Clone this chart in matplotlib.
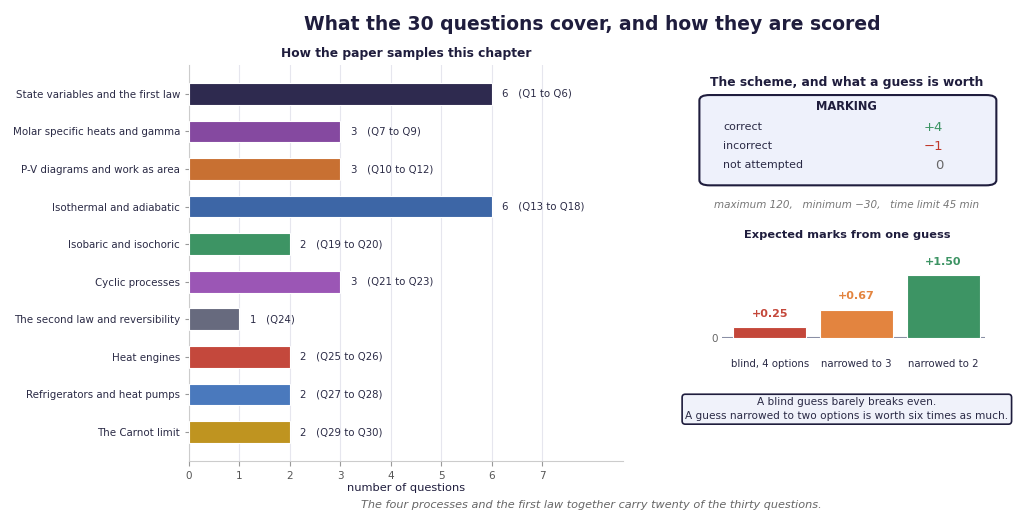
import matplotlib
matplotlib.use("Agg")
import matplotlib.pyplot as plt
from matplotlib.patches import FancyBboxPatch

topics = ["State variables and the first law", "Molar specific heats and gamma",
          "P-V diagrams and work as area", "Isothermal and adiabatic",
          "Isobaric and isochoric", "Cyclic processes",
          "The second law and reversibility", "Heat engines",
          "Refrigerators and heat pumps", "The Carnot limit"]
counts = [6, 3, 3, 6, 2, 3, 1, 2, 2, 2]
ranges = ["(Q1 to Q6)", "(Q7 to Q9)", "(Q10 to Q12)", "(Q13 to Q18)", "(Q19 to Q20)",
          "(Q21 to Q23)", "(Q24)", "(Q25 to Q26)", "(Q27 to Q28)", "(Q29 to Q30)"]
colors = ["#2e2a4f", "#8549a0", "#c87032", "#3d66a6", "#3d9464",
          "#9b56b5", "#676a7e", "#c4483c", "#4a79bd", "#bf9420"]

mark_rows = ["correct", "incorrect", "not attempted"]
mark_vals = ["+4", "\u22121", "0"]
mark_cols = ["#3d9464", "#c0392b", "#666666"]

guess_cases = ["blind, 4 options", "narrowed to 3", "narrowed to 2"]
guess_vals = [0.25, 0.67, 1.50]
guess_cols = ["#c4473a", "#e3843f", "#3d9464"]

navy = "#1f1d3d"
text_c = "#2a2a45"

fig = plt.figure(figsize=(10.24, 5.28), dpi=100)

fig.text(0.578, 0.953, "What the 30 questions cover, and how they are scored",
         ha="center", va="center", fontsize=13.5, fontweight="bold", color=navy)
fig.text(0.578, 0.043, "The four processes and the first law together carry twenty of the thirty questions.",
         ha="center", va="center", fontsize=8.1, style="italic", color="#666666")

# left: topic bars
ax = fig.add_axes([0.1846, 0.127, 0.4238, 0.75])
y = list(range(len(topics)))
ax.barh(y, counts, height=0.58, color=colors, edgecolor="white", linewidth=0.8, zorder=3)
for i in y:
    ax.text(counts[i] + 0.2, i, "%d   %s" % (counts[i], ranges[i]),
            va="center", ha="left", fontsize=7.3, color=text_c)
ax.set_yticks(y)
ax.set_yticklabels(topics, fontsize=7.4, color=text_c)
ax.set_ylim(9.77, -0.77)
ax.set_xlim(0, 8.6)
ax.set_xticks(range(8))
ax.tick_params(axis="x", labelsize=7.5, colors="#999999", labelcolor="#555555")
ax.tick_params(axis="y", colors="#999999", labelcolor=text_c, length=3)
ax.grid(axis="x", color="#e6e6ee", linewidth=0.8, zorder=0)
for s in ["top", "right"]:
    ax.spines[s].set_visible(False)
ax.spines["left"].set_color("#cccccc")
ax.spines["bottom"].set_color("#cccccc")
ax.set_xlabel("number of questions", fontsize=8.2, color=navy, labelpad=2)
ax.set_title("How the paper samples this chapter", fontsize=8.8, fontweight="bold",
             color=navy, pad=6)

# right: marking box
fig.text(0.827, 0.843, "The scheme, and what a guess is worth",
         ha="center", va="center", fontsize=8.8, fontweight="bold", color=navy)
box = FancyBboxPatch((0.683, 0.649), 0.29, 0.171, boxstyle="round,pad=0,rounding_size=0.01",
                     transform=fig.transFigure, facecolor="#eef1fb", edgecolor=navy,
                     linewidth=1.5)
fig.patches.append(box)
fig.text(0.827, 0.799, "MARKING", ha="center", va="center", fontsize=8.3,
         fontweight="bold", color=navy)
for k in range(3):
    yy = 0.759 - k * 0.036
    fig.text(0.706, yy, mark_rows[k], ha="left", va="center", fontsize=7.9, color=text_c)
    fig.text(0.921, yy, mark_vals[k], ha="right", va="center", fontsize=9.5, color=mark_cols[k])
fig.text(0.827, 0.612, "maximum 120,   minimum \u221230,   time limit 45 min",
         ha="center", va="center", fontsize=7.5, style="italic", color="#777777")
fig.text(0.827, 0.555, "Expected marks from one guess",
         ha="center", va="center", fontsize=8.2, fontweight="bold", color=navy)

# right: expected marks bars
ax2 = fig.add_axes([0.705, 0.36, 0.257, 0.167])
xg = list(range(len(guess_cases)))
ax2.bar(xg, guess_vals, width=0.84, color=guess_cols, edgecolor="white", linewidth=0.8, zorder=3)
for i in xg:
    ax2.text(i, guess_vals[i] + 0.2, "+%.2f" % guess_vals[i], ha="center", va="bottom",
             fontsize=8, fontweight="bold", color=guess_cols[i])
ax2.axhline(0, color="#8a8fa5", linewidth=1.5, zorder=2)
ax2.set_xlim(-0.55, 2.48)
ax2.set_ylim(0, 2.1)
ax2.set_yticks([0])
ax2.set_xticks(xg)
ax2.set_xticklabels(guess_cases, fontsize=7.3, color=text_c)
ax2.tick_params(axis="x", length=0, pad=15)
ax2.tick_params(axis="y", labelsize=7.5, labelcolor="#666666", length=0, pad=3)
for s in ax2.spines.values():
    s.set_visible(False)

fig.text(0.827, 0.225, "A blind guess barely breaks even.\nA guess narrowed to two options is worth six times as much.",
         ha="center", va="center", fontsize=7.6, color=text_c, linespacing=1.45,
         bbox=dict(boxstyle="round,pad=0.3,rounding_size=0.3", facecolor="#f0f2fa",
                   edgecolor=navy, linewidth=1.2))

fig.savefig("out.png", dpi=100)
